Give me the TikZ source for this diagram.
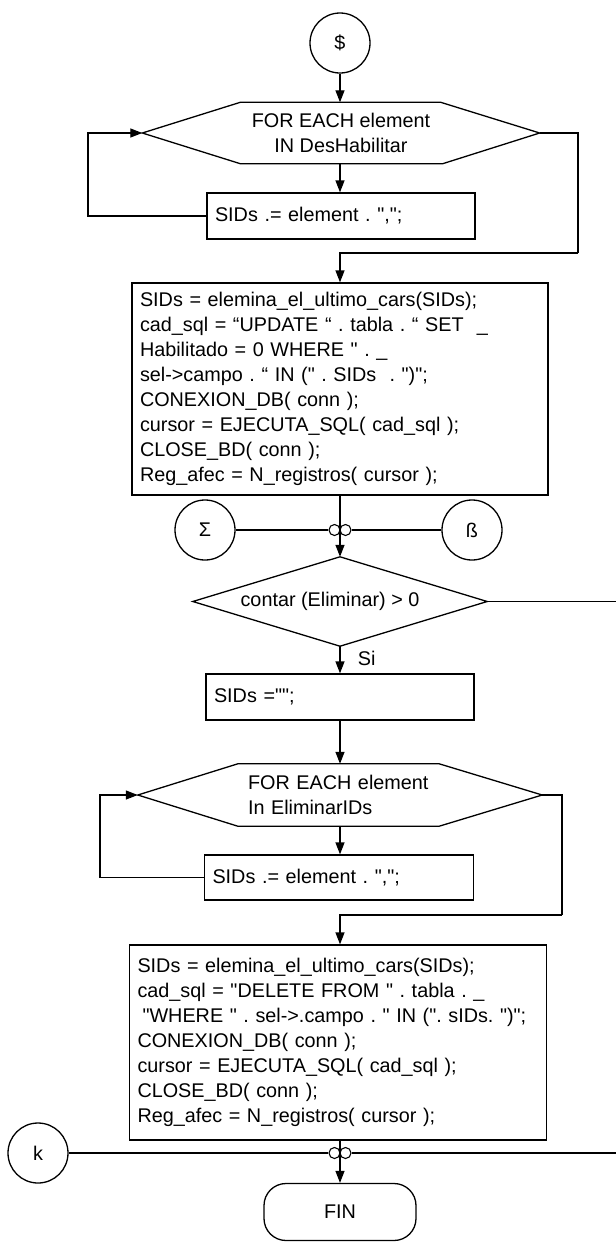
\documentclass[tikz,border=0pt]{standalone}
\usepackage{fontspec}
\setmainfont{Liberation Sans}[Ligatures=TeXOff]
\usetikzlibrary{arrows.meta}
\newcommand{\txtfont}{\fontsize{19.8}{25}\selectfont\frenchspacing}
\begin{document}
\begin{tikzpicture}[x=1pt,y=-1pt,
  ln/.style={line width=1.3pt},
  arr/.style={ln, -{Triangle[length=12pt,width=9pt]}},
  proc/.style={draw, ln, rectangle, align=left, inner xsep=8pt, inner ysep=0pt, font=\txtfont},
  conn/.style={draw, ln, circle, minimum size=60pt, inner sep=0pt, font=\txtfont},
  jn/.style={draw, line width=1.1pt, circle, minimum size=11pt, inner sep=0pt},
  shapebox/.style={rectangle, inner sep=0pt, font=\txtfont},
  term/.style={draw, ln, rectangle, rounded corners=22pt, minimum width=152pt, minimum height=57pt, font=\txtfont}
]
\useasboundingbox (0,0) rectangle (616,1243);
\fill[white] (0,0) rectangle (616,1243);

% start connector
\node[conn] (start) at (340,43) {\$};

% first FOR EACH hexagon
\node[shapebox, minimum width=397pt, minimum height=61pt, align=center] (h1) at (341,133) {FOR EACH element\\IN DesHabilitar};
\draw[ln] ([xshift=98pt]h1.north west) -- ([xshift=-99pt]h1.north east) -- (h1.east)
  -- ([xshift=-97pt]h1.south east) -- ([xshift=98pt]h1.south west) -- (h1.west) -- cycle;

\node[proc, minimum height=46pt, text width=252pt] (b1) at (341,216) {SIDs .= element . ",";};

% big box 1
\node[proc, minimum height=212pt, text width=400pt] (b2) at (340,389) {SIDs = elemina\_el\_ultimo\_cars(SIDs);\\
cad\_sql = “UPDATE “ . tabla . “ SET \ \_\\
Habilitado = 0 WHERE " . \_\\
sel->campo . “ IN (" . SIDs \ . ")";\\
CONEXION\_DB( conn );\\
cursor = EJECUTA\_SQL( cad\_sql );\\
CLOSE\_BD( conn );\\
Reg\_afec = N\_registros( cursor );};

% connectors sigma and beta
\node[conn] (sig) at (205,530) {Σ};
\node[conn] (beta) at (472,530) {ß};
\node[jn] (j1a) at (334.5,530) {};
\node[jn] (j1b) at (345.5,530) {};

% decision
\node[shapebox, minimum width=294pt, minimum height=89pt] (d1) at (340,601.5) {\hspace{-20pt}contar (Eliminar) > 0};
\draw[ln] (d1.north) -- (d1.east) -- (d1.south) -- (d1.west) -- cycle;
\coordinate (out1) at (616,601.5);

\node[proc, minimum height=46pt, text width=252pt] (b3) at (340,697) {SIDs ="";};

% second FOR EACH hexagon
\node[shapebox, minimum width=404pt, minimum height=62pt, text width=184pt, align=left] (h2) at (340,795) {FOR EACH element\\In EliminarIDs};
\draw[ln] ([xshift=100pt]h2.north west) -- ([xshift=-103pt]h2.north east) -- (h2.east)
  -- ([xshift=-103pt]h2.south east) -- ([xshift=100pt]h2.south west) -- (h2.west) -- cycle;

\node[proc, minimum height=45pt, text width=253pt] (b4) at (339,877.5) {SIDs .= element . ",";};

% big box 2
\node[proc, minimum height=195pt, text width=401pt] (b5) at (338,1042.5) {SIDs = elemina\_el\_ultimo\_cars(SIDs);\\
cad\_sql = "DELETE FROM " . tabla . \_\\
\hspace{5pt}"WHERE " . sel->.campo . " IN (". sIDs. ")";\\
CONEXION\_DB( conn );\\
cursor = EJECUTA\_SQL( cad\_sql );\\
CLOSE\_BD( conn );\\
Reg\_afec = N\_registros( cursor );};

\node[conn] (k) at (38,1153) {k};
\node[jn] (j2a) at (334.5,1153) {};
\node[jn] (j2b) at (345.5,1153) {};
\coordinate (out2) at (616,1153);

\node[term] (fin) at (340,1212) {FIN};

% coordinates for loops
\coordinate (l1) at (88,133);
\coordinate (r1) at (578,253);
\coordinate (l2) at (100,795);
\coordinate (r2) at (562,915);

% connectors
\draw[arr] (start) -- (h1.north -| start);
\draw[arr] (h1.south -| start) -- (b1.north -| start);
\draw[arr] (b1.west) -| (l1) -- (h1.west);
\draw[ln] (h1.east) -| (r1);
\draw[arr] (r1) -| (b2.north);
\draw[arr] (b2.south) -- (d1.north);
\draw[ln] (sig.east) -- (j1a.west);
\draw[ln] (beta.west) -- (j1b.east);
\draw[ln] (d1.east) -- (out1);
\draw[arr] (d1.south) -- (b3.north -| d1.south) node[pos=0.45, right=14pt, font=\txtfont] {Si};
\draw[arr] (b3.south) -- (h2.north);
\draw[arr] (b4.west) -| (l2) -- (h2.west);
\draw[arr] (h2.south) -- (b4.north -| h2.south);
\draw[ln] (h2.east) -| (r2);
\draw[arr] (r2) -| (b5.north -| h2.south);
\draw[arr] (b5.south -| fin.north) -- (fin.north);
\draw[ln] (k.east) -- (j2a.west);
\draw[ln] (out2) -- (j2b.east);
\end{tikzpicture}
\end{document}
